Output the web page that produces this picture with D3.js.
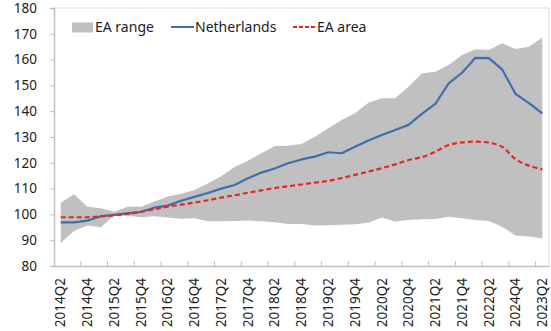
<!DOCTYPE html>
<html>
<head>
<meta charset="utf-8">
<script src="https://cdn.jsdelivr.net/npm/d3@7/dist/d3.min.js"></script>
<style>
  html, body { margin: 0; padding: 0; background: #ffffff; }
  svg { display: block; font-family: "Noto Sans", "Open Sans", sans-serif; }
</style>
</head>
<body>
<svg id="chart" width="551" height="331"></svg>
<script>
// Quarterly categories (the label for 2022Q4 is printed as "2024Q4" in the source series)
const categories = [
  "2014Q2","2014Q3","2014Q4","2015Q1","2015Q2","2015Q3","2015Q4","2016Q1","2016Q2","2016Q3",
  "2016Q4","2017Q1","2017Q2","2017Q3","2017Q4","2018Q1","2018Q2","2018Q3","2018Q4","2019Q1",
  "2019Q2","2019Q3","2019Q4","2020Q1","2020Q2","2020Q3","2020Q4","2021Q1","2021Q2","2021Q3",
  "2021Q4","2022Q1","2022Q2","2022Q3","2024Q4","2023Q1","2023Q2"
];

// Euro area range: upper and lower bounds across member states
const eaUpper = [
  104.5, 107.8, 103.0, 102.4, 101.0, 103.0, 103.0, 105.0, 106.9, 108.0,
  109.5, 112.0, 114.8, 118.4, 120.8, 123.7, 126.5, 126.6, 127.3, 130.1,
  133.4, 136.6, 139.2, 143.3, 145.0, 145.0, 149.5, 154.6, 155.3, 157.9,
  161.8, 164.0, 163.7, 166.3, 164.1, 165.0, 168.6
];
const eaLower = [
  88.9, 93.6, 95.7, 95.0, 99.6, 99.5, 98.9, 99.3, 98.8, 98.3,
  98.5, 97.3, 97.3, 97.4, 97.6, 97.3, 97.0, 96.3, 96.3, 95.7,
  95.8, 96.0, 96.2, 96.8, 98.8, 97.2, 97.8, 98.1, 98.2, 99.1,
  98.5, 97.8, 97.4, 95.2, 91.8, 91.4, 90.7
];

// Netherlands index
const netherlands = [
  96.9, 96.9, 97.6, 99.3, 99.8, 100.4, 101.0, 102.6, 103.4, 105.3,
  106.8, 108.3, 110.0, 111.4, 114.0, 116.2, 117.8, 119.8, 121.3, 122.4,
  124.1, 123.7, 126.2, 128.6, 130.8, 132.7, 134.7, 139.0, 142.8, 150.8,
  154.9, 160.7, 160.6, 156.2, 146.7, 143.1, 139.2
];

// Euro area aggregate index
const eaArea = [
  98.9, 98.9, 98.9, 99.2, 99.6, 100.2, 101.0, 102.0, 103.0, 103.8,
  104.6, 105.5, 106.5, 107.4, 108.4, 109.3, 110.2, 110.9, 111.6, 112.3,
  113.0, 114.1, 115.3, 116.6, 117.9, 119.4, 121.1, 122.2, 124.3, 126.9,
  127.9, 128.2, 127.8, 126.2, 121.4, 118.9, 117.5
];

const yTicks = [80, 90, 100, 110, 120, 130, 140, 150, 160, 170, 180];

const svg = d3.select("#chart");
const plotLeft = 54, plotRight = 549, plotTop = 8, plotBottom = 266;

const x = d3.scaleBand().domain(categories).range([plotLeft, plotRight]).padding(0);
const y = d3.scaleLinear().domain([80, 180]).range([plotBottom, plotTop]);
const cx = c => x(c) + x.bandwidth() / 2;

const rows = categories.map((c, i) => ({
  cat: c, hi: eaUpper[i], lo: eaLower[i], nl: netherlands[i], ea: eaArea[i]
}));

// Plot area frame (top and right)
svg.append("path")
  .attr("d", `M${plotLeft},${plotTop}H${plotRight}V${plotBottom}`)
  .attr("fill", "none")
  .attr("stroke", "#d9d9d9")
  .attr("stroke-width", 1);

// Range band
svg.append("path")
  .datum(rows)
  .attr("fill", "#c0c0c0")
  .attr("d", d3.area()
    .x(d => cx(d.cat))
    .y0(d => y(d.lo))
    .y1(d => y(d.hi)));

// Netherlands line
svg.append("path")
  .datum(rows)
  .attr("fill", "none")
  .attr("stroke", "#3e6eaf")
  .attr("stroke-width", 2.2)
  .attr("stroke-linejoin", "round")
  .attr("d", d3.line().x(d => cx(d.cat)).y(d => y(d.nl)));

// EA area line (dashed, smoothed)
svg.append("path")
  .datum(rows)
  .attr("fill", "none")
  .attr("stroke", "#e3281f")
  .attr("stroke-width", 2.2)
  .attr("stroke-dasharray", "5,3")
  .attr("d", d3.line().curve(d3.curveCatmullRom).x(d => cx(d.cat)).y(d => y(d.ea)));

// Y axis
const yAxis = svg.append("g")
  .attr("transform", `translate(${plotLeft},0)`)
  .call(d3.axisLeft(y).tickValues(yTicks).tickSize(4).tickPadding(13));
yAxis.select(".domain").attr("stroke", "#bfbfbf").attr("stroke-width", 1.5);
yAxis.selectAll(".tick line").attr("stroke", "#bfbfbf");
yAxis.selectAll(".tick text")
  .attr("font-size", 13.5)
  .attr("fill", "#222")
  .attr("font-family", "Noto Sans, Open Sans, sans-serif");

// X axis: labels on every second quarter, tick marks at band edges
const labelCats = categories.filter((c, i) => i % 2 === 0);
const xAxis = svg.append("g")
  .attr("transform", `translate(0,${plotBottom})`)
  .call(d3.axisBottom(x).tickValues(labelCats).tickSize(0).tickPadding(0));
xAxis.select(".domain").attr("stroke", "#bfbfbf").attr("stroke-width", 1.5);
xAxis.selectAll(".tick text")
  .attr("font-size", 13.5)
  .attr("fill", "#222")
  .attr("font-family", "Noto Sans, Open Sans, sans-serif")
  .attr("text-anchor", "end")
  .attr("dy", "0.35em")
  .attr("transform", "translate(0,12) rotate(-90)")
  .attr("x", 0)
  .attr("y", 0);

svg.append("g")
  .selectAll("line")
  .data(labelCats.slice(1))
  .join("line")
  .attr("x1", d => x(d)).attr("x2", d => x(d))
  .attr("y1", plotBottom).attr("y2", plotBottom - 5)
  .attr("stroke", "#bfbfbf");

// Legend
const legend = svg.append("g").attr("font-size", 14).attr("fill", "#222");
legend.append("rect").attr("x", 72).attr("y", 22.5).attr("width", 21).attr("height", 10).attr("fill", "#c0c0c0");
legend.append("text").attr("x", 95).attr("y", 27.5).attr("dy", "0.35em").text("EA range");
legend.append("line").attr("x1", 171).attr("x2", 194).attr("y1", 27).attr("y2", 27)
  .attr("stroke", "#3e6eaf").attr("stroke-width", 2);
legend.append("text").attr("x", 195).attr("y", 27.5).attr("dy", "0.35em").text("Netherlands");
legend.append("line").attr("x1", 293).attr("x2", 316).attr("y1", 27).attr("y2", 27)
  .attr("stroke", "#e3281f").attr("stroke-width", 2).attr("stroke-dasharray", "4,2");
legend.append("text").attr("x", 317).attr("y", 27.5).attr("dy", "0.35em").text("EA area");
</script>
</body>
</html>
